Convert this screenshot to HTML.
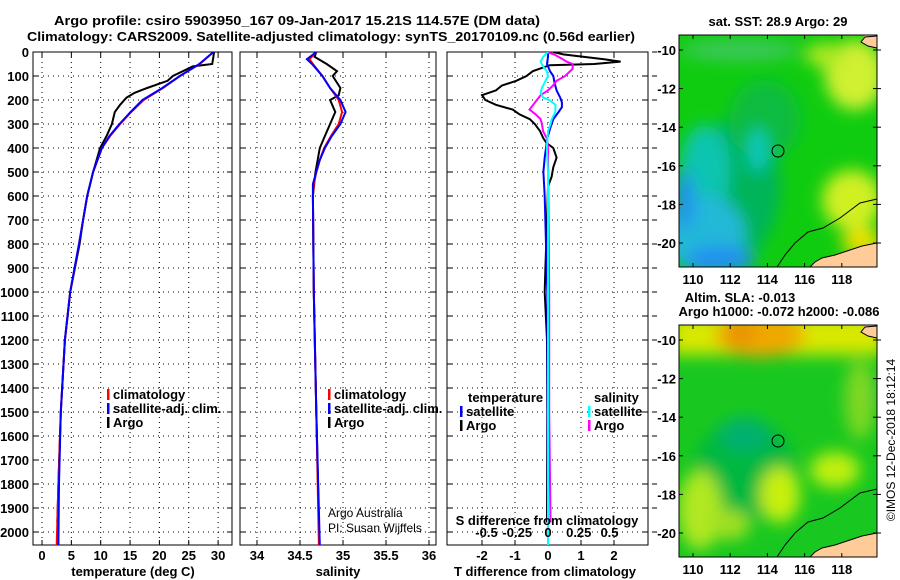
<!DOCTYPE html>
<html><head><meta charset="utf-8"><style>
html,body{margin:0;padding:0;background:#fff;}
svg{display:block;font-family:"Liberation Sans",sans-serif;}
.t{font-weight:bold;font-size:13px;}
</style></head><body>
<svg id="fig" width="900" height="580" viewBox="0 0 900 580">
<defs>
<filter id="blur8" x="-30%" y="-30%" width="160%" height="160%"><feGaussianBlur stdDeviation="8"/></filter>
<clipPath id="cm1"><rect x="679" y="35" width="198" height="232"/></clipPath>
<clipPath id="cm2"><rect x="679" y="325" width="198" height="232"/></clipPath>
<clipPath id="cp1"><rect x="33" y="52" width="199" height="493"/></clipPath>
<clipPath id="cp2"><rect x="240" y="52" width="196" height="493"/></clipPath>
<clipPath id="cp3"><rect x="447" y="52" width="201" height="493"/></clipPath>
</defs>
<text x="297" y="25" class="t" font-size="14" text-anchor="middle" textLength="486" lengthAdjust="spacingAndGlyphs">Argo profile: csiro 5903950_167 09-Jan-2017 15.21S 114.57E (DM data)</text>
<text x="331" y="41" class="t" font-size="14" text-anchor="middle" textLength="608" lengthAdjust="spacingAndGlyphs">Climatology: CARS2009. Satellite-adjusted climatology: synTS_20170109.nc (0.56d earlier)</text>

<g id="p1"></g>
<g id="p2"></g>
<g id="p3"></g>

<!-- Map 1 -->
<g>
<text x="778" y="26" class="t" text-anchor="middle">sat. SST: 28.9 Argo: 29</text>
<g clip-path="url(#cm1)">
<rect x="679" y="35" width="198" height="232" fill="#10cc10"/>
<g filter="url(#blur8)">
<ellipse cx="740" cy="185" rx="40" ry="70" fill="#00b45a"/>
<ellipse cx="765" cy="120" rx="35" ry="40" fill="#08bc40"/>
<ellipse cx="705" cy="170" rx="25" ry="45" fill="#10c4b0"/>
<ellipse cx="758" cy="150" rx="10" ry="22" fill="#10c8c0"/>
<ellipse cx="705" cy="235" rx="40" ry="40" fill="#20b8d8"/>
<ellipse cx="720" cy="260" rx="35" ry="14" fill="#2090f0"/>
<ellipse cx="684" cy="200" rx="10" ry="30" fill="#2090f0"/>
<ellipse cx="855" cy="75" rx="30" ry="35" fill="#d0f030"/>
<ellipse cx="825" cy="55" rx="20" ry="12" fill="#b0e820"/>
<ellipse cx="852" cy="200" rx="30" ry="30" fill="#d0f020"/>
<ellipse cx="862" cy="242" rx="20" ry="15" fill="#e8e000"/>
<ellipse cx="740" cy="50" rx="60" ry="10" fill="#40c860"/>
</g>
<path d="M877,243 L862,246 L850,250 L835,255 L822,258 L815,262 L810,267 L877,267 Z" fill="#ffcc99"/>
<path d="M865,35 L877,35 L877,48 L868,46 L861,42 Z" fill="#ffcc99"/>
<path d="M877,199 L860,203 L840,218 L823,228 L808,232 L795,243 L785,255 L777,267" fill="none" stroke="#000" stroke-width="1"/>
<path d="M877,48 L868,46 L861,42 L865,37 L877,36" fill="none" stroke="#000" stroke-width="1"/>
<path d="M810,267 L815,262 L822,258 L835,255 L850,250 L862,246 L877,243" fill="none" stroke="#000" stroke-width="1"/>
</g>
<circle cx="778" cy="151" r="6" fill="none" stroke="#000" stroke-width="1"/>
<rect x="679" y="35" width="198" height="232" fill="none" stroke="#000" stroke-width="1"/>
<g id="m1ticks"></g>
</g>

<!-- Map 2 -->
<g>
<text x="740" y="302" class="t" text-anchor="middle">Altim. SLA: -0.013</text>
<text x="779" y="316" class="t" text-anchor="middle">Argo h1000: -0.072 h2000: -0.086</text>
<g clip-path="url(#cm2)">
<rect x="679" y="325" width="198" height="232" fill="#18c820"/>
<g filter="url(#blur8)">
<rect x="670" y="315" width="215" height="40" fill="#d8e800"/>
<ellipse cx="760" cy="335" rx="45" ry="22" fill="#f0a800"/>
<ellipse cx="740" cy="333" rx="15" ry="12" fill="#e89000"/>
<ellipse cx="745" cy="470" rx="50" ry="50" fill="#00b840"/>
<ellipse cx="745" cy="435" rx="25" ry="18" fill="#00b070"/>
<ellipse cx="780" cy="495" rx="20" ry="28" fill="#c8f010"/>
<ellipse cx="835" cy="470" rx="25" ry="18" fill="#c0f010"/>
<ellipse cx="700" cy="510" rx="22" ry="40" fill="#b0e820"/>
<ellipse cx="730" cy="525" rx="20" ry="15" fill="#a0e020"/>
<ellipse cx="872" cy="395" rx="8" ry="14" fill="#00b050"/>
<ellipse cx="860" cy="400" rx="15" ry="40" fill="#80d820"/>
</g>
<path d="M877,533 L862,536 L850,540 L835,545 L822,548 L815,552 L810,557 L877,557 Z" fill="#ffcc99"/>
<path d="M865,325 L877,325 L877,338 L868,336 L861,332 Z" fill="#ffcc99"/>
<path d="M877,489 L860,493 L840,508 L823,518 L808,522 L795,533 L785,545 L777,557" fill="none" stroke="#000" stroke-width="1"/>
<path d="M877,338 L868,336 L861,332 L865,327 L877,326" fill="none" stroke="#000" stroke-width="1"/>
<path d="M810,557 L815,552 L822,548 L835,545 L850,540 L862,536 L877,533" fill="none" stroke="#000" stroke-width="1"/>
</g>
<circle cx="778" cy="441" r="6" fill="none" stroke="#000" stroke-width="1"/>
<rect x="679" y="325" width="198" height="232" fill="none" stroke="#000" stroke-width="1"/>
<g id="m2ticks"></g>
</g>
<text transform="translate(895,440) rotate(-90)" font-size="12" text-anchor="middle">©IMOS 12-Dec-2018 18:12:14</text>
</svg>
<script>
// ---- data ----
const depthTicks = [0,100,200,300,400,500,600,700,800,900,1000,1100,1200,1300,1400,1500,1600,1700,1800,1900,2000];
const tempTicks = [0,5,10,15,20,25,30];
const salTicks = [34,34.5,35,35.5,36];
const salTickLabels = ["34","34.5","35","35.5","36"];
const dTTicks = [-2,-1,0,1,2];
const dSTicks = [-0.5,-0.25,0,0.25,0.5];
const dSTickLabels = ["-0.5","-0.25","0","0.25","0.5"];

const climDepth = [0,50,100,150,200,250,300,350,400,500,600,700,800,1000,1200,1500,1800,2055];
const climTemp  = [29.2,26.9,23.5,20.6,17.3,15.2,13.3,11.6,10.2,8.7,7.7,7.0,6.3,4.8,3.9,3.2,2.8,2.5];
const satTemp   = [29.2,26.8,23.5,20.5,17.1,15.1,13.2,11.5,10.2,8.7,7.7,7.0,6.3,4.8,3.9,3.2,2.9,2.8];
const argoDepth = [0,20,50,60,100,120,150,170,190,220,250,300,350,400,500,600,700,800,1000,1200,1500,1800,1960];
const argoTemp  = [29.3,29.2,29.0,25.7,22.3,21.4,17.9,15.8,14.4,13.3,12.4,11.9,11.0,9.9,8.7,7.7,7.0,6.4,4.8,3.9,3.2,2.8,2.6];

const salDepth = [0,30,50,100,150,200,250,300,350,400,450,500,550,600,1000,1500,2055];
const climSal  = [34.69,34.61,34.65,34.76,34.85,34.95,34.99,34.95,34.86,34.78,34.73,34.69,34.66,34.65,34.66,34.69,34.72];
const satSal   = [34.69,34.58,34.64,34.76,34.85,34.97,35.03,34.97,34.87,34.79,34.73,34.69,34.65,34.65,34.66,34.69,34.73];
const argoSalDepth = [0,20,50,80,100,150,180,200,250,300,350,400,500,600,1000,1500,1960];
const argoSal  = [34.69,34.67,34.81,34.93,34.88,34.97,34.95,34.85,34.91,34.85,34.79,34.73,34.68,34.65,34.66,34.69,34.72];

const dTDepth = [0,10,30,40,50,55,80,100,120,140,160,180,200,220,240,260,280,300,330,360,380,400,440,480,520,560,700,900,1000,1200,1500,1960];
const argoDT  = [0.16,0.46,1.7,2.2,1.4,0.05,-0.46,-0.65,-0.96,-1.4,-1.58,-2.0,-1.9,-1.58,-1.07,-0.86,-0.55,-0.4,-0.24,-0.14,-0.04,0.16,0.26,0.16,0.11,0.0,-0.03,-0.08,-0.1,-0.03,-0.02,-0.03];
const satDTDepth = [0,20,50,80,100,130,160,190,210,230,250,280,320,360,400,440,500,600,800,1000,2055];
const satDT   = [0,0,-0.03,0.06,0.16,0.2,0.26,0.37,0.42,0.42,0.32,0.16,0.06,-0.02,-0.06,-0.1,-0.14,-0.1,-0.06,-0.02,0];
const dSDepth = [0,10,30,40,50,70,80,100,120,140,160,180,200,220,240,260,280,300,330,360,400,1000,1500,1960];
const argoDS  = [-0.01,0.05,0.12,0.15,0.2,0.2,0.18,0.14,0.07,0.04,0,-0.06,-0.09,-0.12,-0.15,-0.1,-0.06,-0.05,-0.04,-0.01,0,0.01,0.01,0.02];
const satDSDepth = [0,20,40,60,80,100,130,150,170,190,200,220,250,280,300,330,400,500,1000,2055];
const satDS   = [0,-0.04,-0.06,-0.04,-0.01,0,-0.03,-0.05,-0.06,-0.04,0.01,0.06,0.06,0.03,0.02,0,-0.01,0,0,0];

const lonTicks = [110,112,114,116,118];
const latTicks = [-10,-12,-14,-16,-18,-20];

// ---- scales ----
const Y0=52, Y1=545;
const yD = d => Y0 + d*0.24;
const xT = t => 42 + t*5.87;
const xS = s => 257 + (s-34)*86;
const xDT = v => 548 + v*33;
const xDS = v => 548 + v*123;
const mLon = l => 693 + (l-110)*18.6;
const mLat1 = l => 50 + (-10-l)*19.3;
const mLat2 = l => 340 + (-10-l)*19.3;

const NS="http://www.w3.org/2000/svg";
function mk(tag, parent, attrs){const e=document.createElementNS(NS,tag);for(const k in attrs)e.setAttribute(k,attrs[k]);parent.appendChild(e);return e;}

function panel(g, x0, x1, xs, xgrid, xlabels, xlabelVals, showY){
  depthTicks.forEach(d=>{
    const l=mk('line',g,{x1:x0,x2:x1,y1:yD(d),y2:yD(d),stroke:'#000','stroke-width':1,'stroke-dasharray':'1,4'});
    
    
    mk('line',g,{x1:x0,x2:x0+5,y1:yD(d),y2:yD(d),stroke:'#000'});
    mk('line',g,{x1:x1-5,x2:x1,y1:yD(d),y2:yD(d),stroke:'#000'});
    if(showY){
      const t=mk('text',g,{x:29,y:yD(d)+5,'text-anchor':'end',class:'t'});
      t.textContent=d;
      
      
    }
  });
  xgrid.forEach(v=>{
    const X=xs(v);
    const l=mk('line',g,{x1:X,x2:X,y1:Y0,y2:Y1,stroke:'#000','stroke-width':1,'stroke-dasharray':'1,4'});
    
    
    mk('line',g,{x1:X,x2:X,y1:Y0,y2:Y0+5,stroke:'#000'});
    mk('line',g,{x1:X,x2:X,y1:Y1-5,y2:Y1,stroke:'#000'});
  });
  xlabelVals.forEach((v,i)=>{
    const t=mk('text',g,{x:xs(v),y:560,'text-anchor':'middle',class:'t'});
    t.textContent=xlabels[i];
    
    
  });
  mk('rect',g,{x:x0,y:Y0,width:x1-x0,height:Y1-Y0,fill:'none',stroke:'#000','stroke-width':1});
}
function line(g, depths, vals, xs, color, clip, name){
  const pts=depths.map((d,i)=>xs(vals[i]).toFixed(1)+','+yD(d).toFixed(1)).join(' ');
  const p=mk('polyline',g,{points:pts,fill:'none',stroke:color,'stroke-width':2,'clip-path':'url(#'+clip+')'});
  
  
}
function txt(g,x,y,s,anchor,name,extra){
  const t=mk('text',g,Object.assign({x:x,y:y,'text-anchor':anchor||'start',class:'t'},extra||{}));
  t.textContent=s;
  
  
  return t;
}
function legItem(g,x,y,color,label,name){
  mk('rect',g,{x:x-1,y:y-9,width:2.5,height:11,fill:color});
  txt(g,x+5,y+1,label,'start',name);
}

// Panel 1
const p1=document.getElementById('p1');
panel(p1,33,232,xT,tempTicks,tempTicks.map(String),tempTicks,true);
line(p1,argoDepth,argoTemp,xT,'#000','cp1','argo-temperature-line');
line(p1,climDepth,climTemp,xT,'#ff0000','cp1','climatology-temperature-line');
line(p1,climDepth,satTemp,xT,'#0000ff','cp1','satellite-temperature-line');
txt(p1,133,576,'temperature (deg C)','middle','temperature-axis-title');
legItem(p1,108,398,'#ff0000','climatology','legend-climatology');
legItem(p1,108,412,'#0000ff','satellite-adj. clim.','legend-satellite');
legItem(p1,108,426,'#000','Argo','legend-argo');

// Panel 2
const p2=document.getElementById('p2');
panel(p2,240,436,xS,salTicks,salTickLabels,salTicks,false);
line(p2,argoSalDepth,argoSal,xS,'#000','cp2','argo-salinity-line');
line(p2,salDepth,climSal,xS,'#ff0000','cp2','climatology-salinity-line');
line(p2,salDepth,satSal,xS,'#0000ff','cp2','satellite-salinity-line');
txt(p2,338,576,'salinity','middle','salinity-axis-title');
legItem(p2,329,398,'#ff0000','climatology','legend-climatology-2');
legItem(p2,329,412,'#0000ff','satellite-adj. clim.','legend-satellite-2');
legItem(p2,329,426,'#000','Argo','legend-argo-2');
txt(p2,328,517,'Argo Australia','start','credit-argo-australia',{style:'font-weight:normal;font-size:12px'});
txt(p2,328,532,'PI: Susan Wijffels','start','credit-pi',{style:'font-weight:normal;font-size:12px'});

// Panel 3
const p3=document.getElementById('p3');
panel(p3,447,648,xDT,dTTicks,dTTicks.map(String),dTTicks,false);
line(p3,dTDepth,argoDT,xDT,'#000','cp3','argo-temperature-diff-line');
line(p3,satDTDepth,satDT,xDT,'#0000ff','cp3','satellite-temperature-diff-line');
line(p3,dSDepth,argoDS,xDS,'#ff00ff','cp3','argo-salinity-diff-line');
line(p3,satDSDepth,satDS,xDS,'#00ffff','cp3','satellite-salinity-diff-line');
depthTicks.forEach(d=>{mk('line',p3,{x1:652,x2:657,y1:yD(d),y2:yD(d),stroke:'#000'});});
dSTicks.forEach((v,i)=>{
  txt(p3,xDS(v),537,dSTickLabels[i],'middle','s-diff-tick-label');
});
txt(p3,547,525,'S difference from climatology','middle','s-diff-axis-title');
txt(p3,545,576,'T difference from climatology','middle','t-diff-axis-title');
txt(p3,468,402,'temperature','start','legend-temperature-heading');
legItem(p3,461,415,'#0000ff','satellite','legend-t-satellite');
legItem(p3,461,429,'#000','Argo','legend-t-argo');
txt(p3,594,402,'salinity','start','legend-salinity-heading');
legItem(p3,589,415,'#00ffff','satellite','legend-s-satellite');
legItem(p3,589,429,'#ff00ff','Argo','legend-s-argo');

// Map ticks
function mapTicks(id,latf,top,bot){
  const g=document.getElementById(id);
  lonTicks.forEach(l=>{
    const X=mLon(l);
    mk('line',g,{x1:X,x2:X,y1:top,y2:top+4,stroke:'#000'});
    mk('line',g,{x1:X,x2:X,y1:bot-4,y2:bot,stroke:'#000'});
    txt(g,X,bot+17,String(l),'middle','longitude-tick-label');
  });
  latTicks.forEach(l=>{
    const Y=latf(l);
    mk('line',g,{x1:679,x2:683,y1:Y,y2:Y,stroke:'#000'});
    mk('line',g,{x1:873,x2:881,y1:Y,y2:Y,stroke:'#000'});
    txt(g,676,Y+5,String(l),'end','latitude-tick-label');
  });
}
mapTicks('m1ticks',mLat1,35,267);
mapTicks('m2ticks',mLat2,325,557);
</script>
</body></html>
